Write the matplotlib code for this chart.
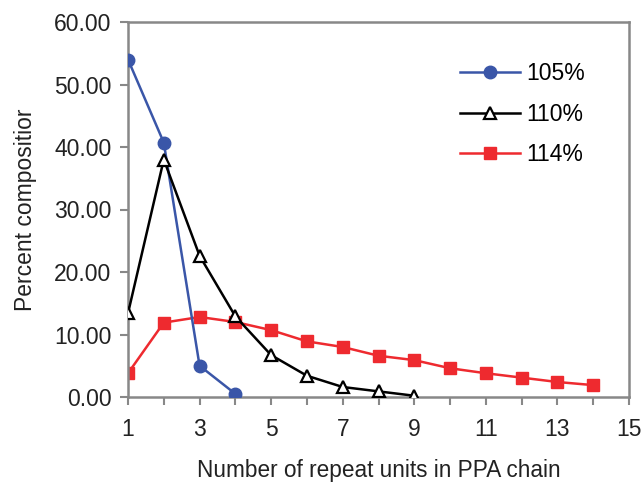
import matplotlib.pyplot as plt

units_105 = [1, 2, 3, 4]
pct_105 = [54.0, 40.7, 5.0, 0.5]

units_110 = [1, 2, 3, 4, 5, 6, 7, 8, 9]
pct_110 = [13.4, 38.0, 22.6, 12.9, 6.7, 3.4, 1.6, 0.9, 0.2]

units_114 = [1, 2, 3, 4, 5, 6, 7, 8, 9, 10, 11, 12, 13, 14]
pct_114 = [3.8, 11.9, 12.8, 12.0, 10.7, 8.9, 8.0, 6.6, 5.9, 4.6, 3.8, 3.1, 2.4, 1.9]

x_ticks = [1, 3, 5, 7, 9, 11, 13, 15]
y_ticks = [0, 10, 20, 30, 40, 50, 60]

plt.rcParams['font.family'] = ['Liberation Sans', 'DejaVu Sans']

fig = plt.figure(figsize=(6.44, 4.87), dpi=100)
ax = fig.add_axes([128 / 644, 1 - 397 / 487, 501 / 644, 375 / 487])

ax.plot(units_105, pct_105, color='#3a56a8', lw=1.8, marker='o', ms=9,
        label='105%', zorder=3)
ax.plot(units_110, pct_110, color='black', lw=1.8, marker='^', ms=9,
        mfc='white', mec='black', mew=1.6, label='110%', zorder=4)
ax.plot(units_114, pct_114, color='#ee2a2f', lw=1.8, marker='s', ms=8,
        label='114%', zorder=2)

ax.set_xlim(1, 15)
ax.set_ylim(0, 60)
ax.set_xticks(x_ticks)
ax.set_xticks(range(1, 16), minor=True)
ax.set_yticks(y_ticks)
ax.set_yticklabels(['%.2f' % v for v in y_ticks])

for s in ax.spines.values():
    s.set_color('#888888')
    s.set_linewidth(1.8)
ax.tick_params(axis='both', which='both', colors='#888888', labelcolor='#222222',
               labelsize=16.5, direction='out', width=1.5)
ax.tick_params(axis='both', which='major', length=6)
ax.tick_params(axis='x', which='minor', length=6)
ax.tick_params(axis='x', pad=9)
ax.tick_params(axis='y', pad=6)

ax.set_xlabel('Number of repeat units in PPA chain', fontsize=16.3, color='#222222', labelpad=13)
ax.set_ylabel('Percent compositior', fontsize=16.5, color='#222222', labelpad=12)

ax.legend(loc='upper left', bbox_to_anchor=(0.663, 0.893), frameon=False, fontsize=16.5,
          borderpad=0, borderaxespad=0, handlelength=2.6, labelspacing=0.76,
          handletextpad=0.3)

plt.savefig('out.png', dpi=100)
